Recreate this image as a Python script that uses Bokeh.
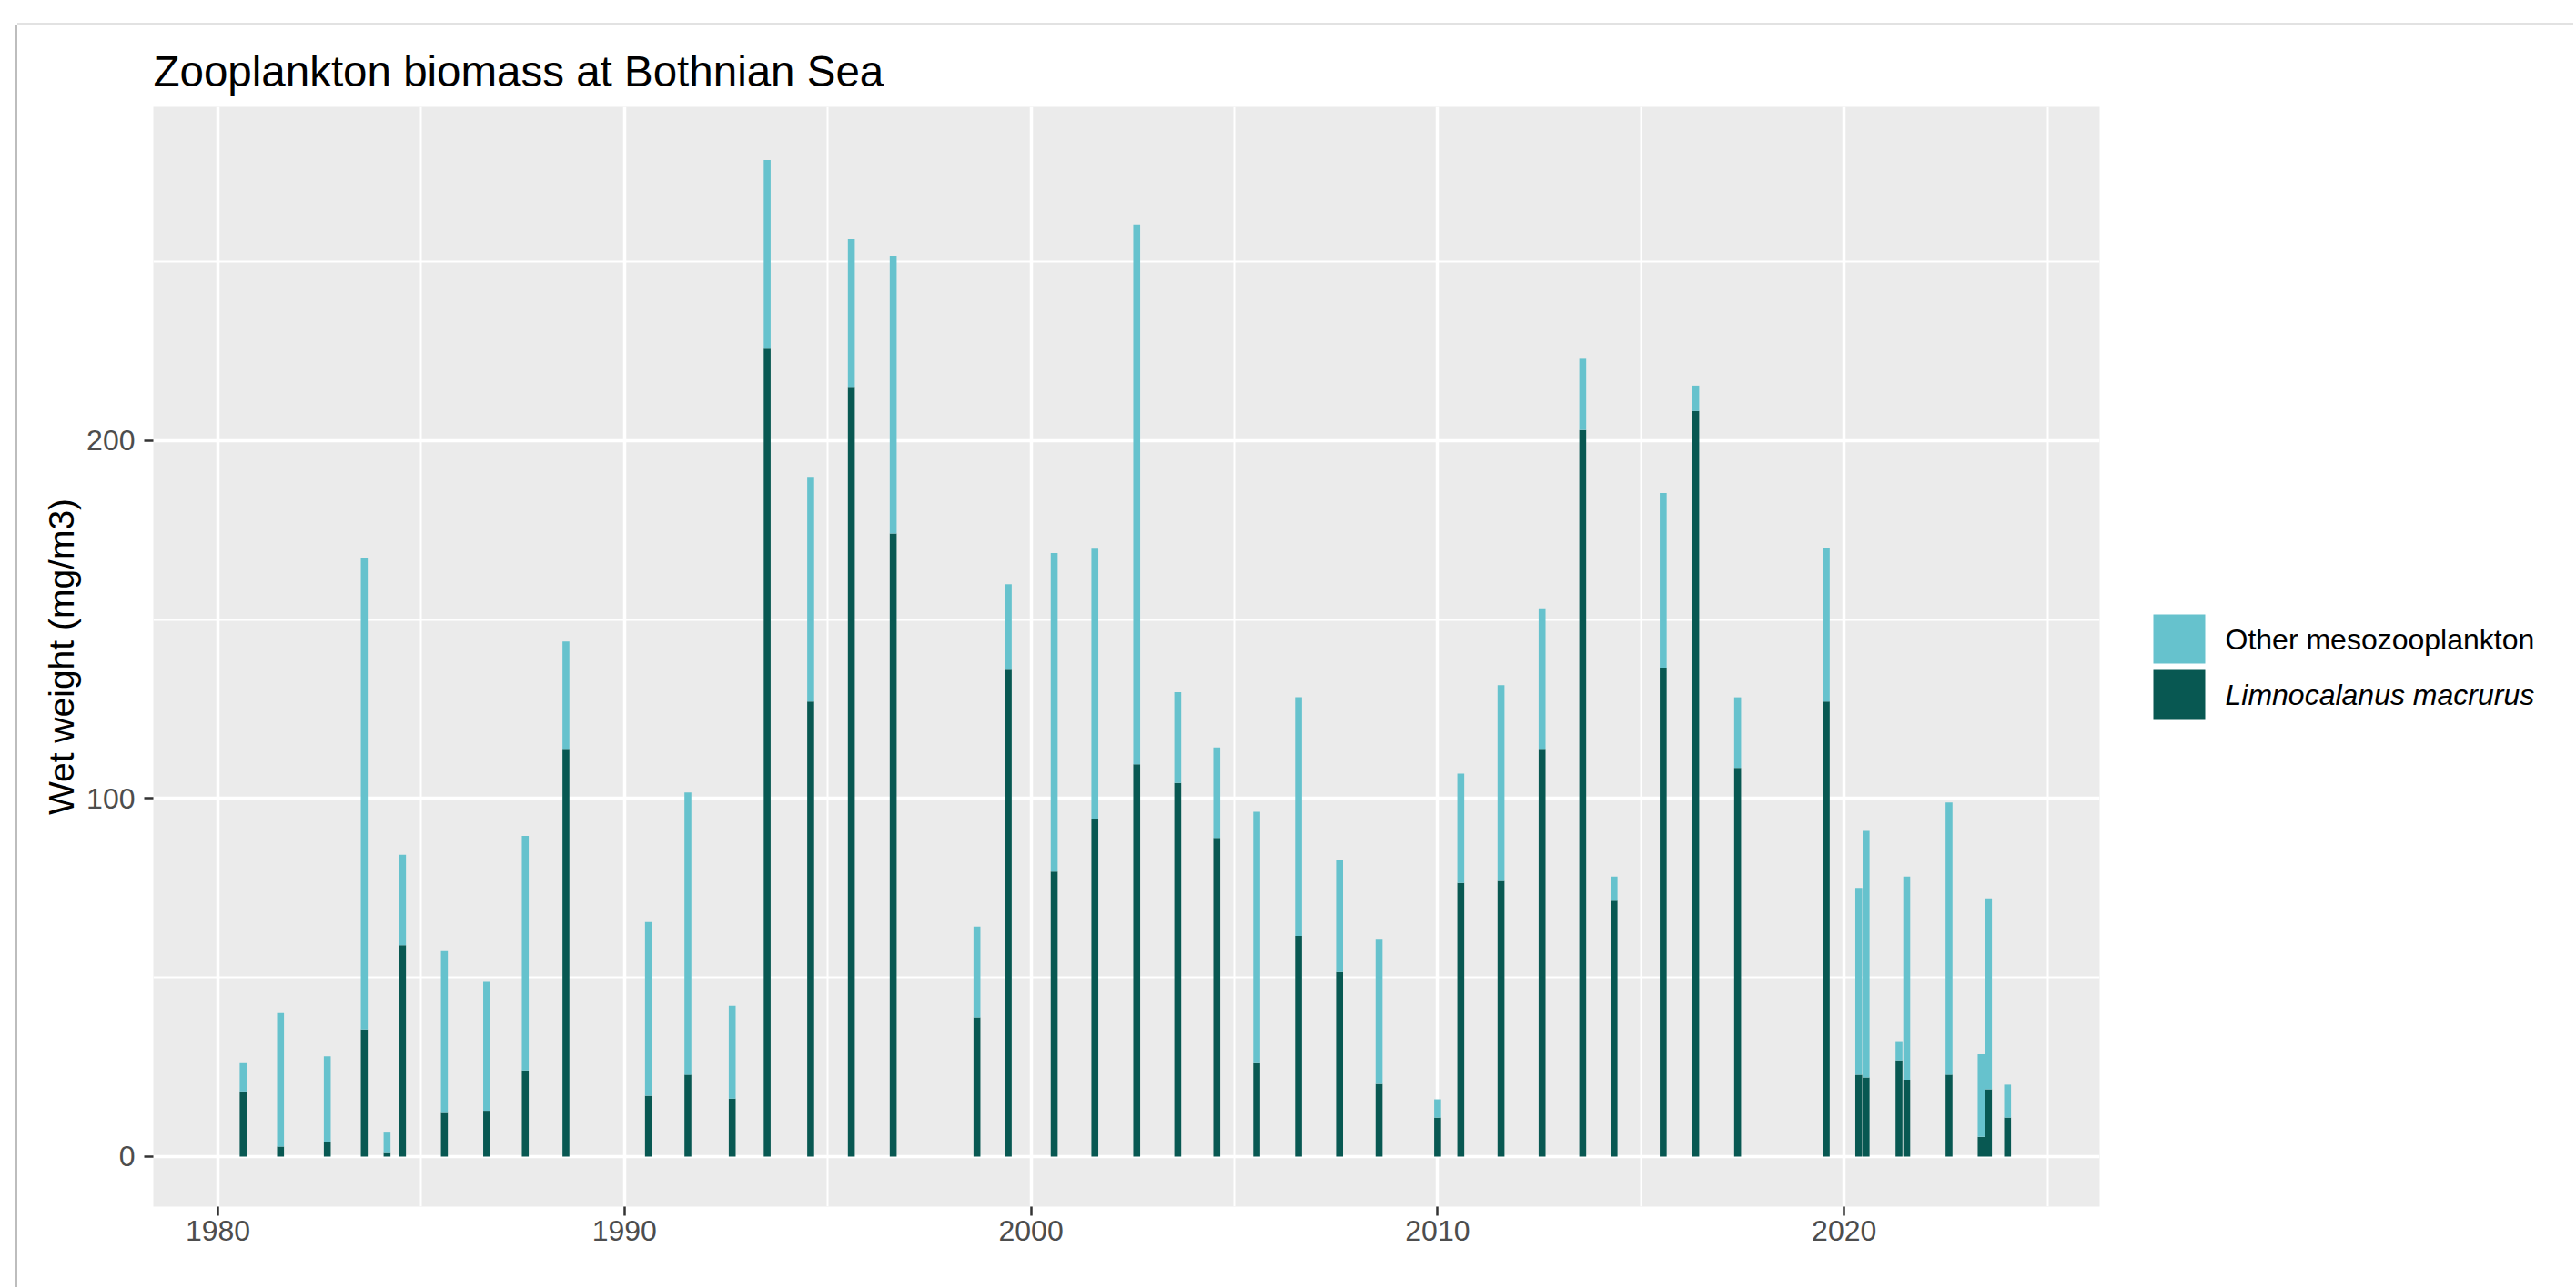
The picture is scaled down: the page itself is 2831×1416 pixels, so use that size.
from bokeh.plotting import figure
from bokeh.models import FixedTicker, Range1d
from bokeh.layouts import row
from bokeh.core.properties import value
from bokeh.embed import file_html
from bokeh.resources import INLINE

# ---- data (sampling date as decimal year) ----
sample_dates = [
    1980.62, 1981.54, 1982.69, 1983.60, 1984.16, 1984.54, 1985.57, 1986.61, 1987.56, 1988.56,
    1990.59, 1991.56, 1992.65, 1993.51, 1994.58, 1995.58, 1996.61, 1998.67, 1999.44, 2000.57,
    2001.57, 2002.60, 2003.61, 2004.57, 2005.55, 2006.58, 2007.59, 2008.56, 2010.00, 2010.57,
    2011.56, 2012.57, 2013.57, 2014.34, 2015.55, 2016.35, 2017.38, 2019.56, 2020.36, 2020.54,
    2021.35, 2021.54, 2022.58, 2023.37, 2023.55, 2024.02,
]
# Limnocalanus macrurus wet weight (mg/m3), bottom of each stack
limnocalanus = [
    18.2, 2.8, 4.1, 35.5, 1.0, 59.0, 12.2, 12.8, 24.1, 113.9,
    17.0, 22.9, 16.2, 225.7, 127.1, 214.8, 174.1, 38.9, 136.0, 79.6,
    94.4, 109.6, 104.4, 89.0, 26.1, 61.6, 51.5, 20.3, 10.9, 76.4,
    77.0, 113.9, 203.0, 71.7, 136.6, 208.3, 108.6, 127.1, 22.9, 22.1,
    26.9, 21.5, 22.9, 5.5, 18.8, 10.9,
]
# total wet weight (Limnocalanus + other mesozooplankton), top of each stack
total_biomass = [
    26.1, 40.1, 28.0, 167.2, 6.7, 84.3, 57.6, 48.8, 89.6, 143.9,
    65.5, 101.7, 42.1, 278.4, 189.9, 256.3, 251.7, 64.2, 159.9, 168.6,
    169.8, 260.4, 129.7, 114.3, 96.3, 128.3, 82.9, 60.8, 16.0, 107.0,
    131.7, 153.2, 222.9, 78.2, 185.4, 215.4, 128.3, 170.0, 75.0, 91.0,
    32.0, 78.2, 98.9, 28.6, 72.1, 20.1,
]
series_labels = ["Other mesozooplankton", "Limnocalanus macrurus"]
series_colors = ["#66C2CD", "#085852"]
x_ticks = [1980, 1990, 2000, 2010, 2020]
x_minor = [1985, 1995, 2005, 2015, 2025]
y_ticks = [0, 100, 200]
y_minor = [50, 150, 250]

LIGHT, DARK = series_colors
FONT = "Liberation Sans"

# ---- main chart (page x 19.., y 27..) ----
p = figure(width=2319, height=1388, output_backend="svg", toolbar_location=None,
           x_range=Range1d(1978.411, 2026.285), y_range=Range1d(-13.98, 293.26),
           min_border_left=149, min_border_right=31, min_border_top=90,
           min_border_bottom=89)

p.background_fill_color = "#EBEBEB"
p.border_fill_color = "white"
p.outline_line_color = None

r_limno = p.vbar(x=sample_dates, width=0.17, bottom=0, top=limnocalanus,
                 fill_color=DARK, line_color=None)
r_other = p.vbar(x=sample_dates, width=0.17, bottom=limnocalanus, top=total_biomass,
                 fill_color=LIGHT, line_color=None)

p.xaxis.ticker = FixedTicker(ticks=x_ticks, minor_ticks=x_minor)
p.yaxis.ticker = FixedTicker(ticks=y_ticks, minor_ticks=y_minor)
for ax in (p.xaxis, p.yaxis):
    ax.axis_line_color = None
    ax.minor_tick_line_color = None
    ax.major_tick_line_color = "#333333"
    ax.major_tick_line_width = 2.5
    ax.major_tick_out = 10
    ax.major_tick_in = 0
    ax.major_label_text_font = FONT
    ax.major_label_text_font_size = "32px"
    ax.major_label_text_color = "#4D4D4D"
p.xaxis.major_label_standoff = 5
p.yaxis.major_label_standoff = 10
p.yaxis.axis_label = "Wet weight (mg/m3)"
p.yaxis.axis_label_text_font = FONT
p.yaxis.axis_label_text_font_size = "39px"
p.yaxis.axis_label_text_font_style = "normal"
p.yaxis.axis_label_text_color = "black"
p.yaxis.axis_label_standoff = 3

for g in (p.xgrid, p.ygrid):
    g.grid_line_color = "white"
    g.grid_line_width = 3.5
    g.minor_grid_line_color = "white"
    g.minor_grid_line_width = 2

p.title.text = "Zooplankton biomass at Bothnian Sea"
p.title.text_font = FONT
p.title.text_font_size = "47.5px"
p.title.text_font_style = "normal"
p.title.text_color = "black"
p.title.align = "left"
p.title.standoff = 25

# ---- legend panel (its frame is aligned with the chart frame; ranges in page px) ----
q = figure(width=490, height=1388, output_backend="svg", toolbar_location=None,
           x_range=Range1d(2338, 2828), y_range=Range1d(1326, 117), min_border=0,
           x_axis_location=None, y_axis_location=None)
q.grid.visible = False
q.outline_line_color = None
q.background_fill_color = "white"
q.border_fill_color = "white"
q.quad(left=[2366, 2366], right=[2423, 2423], top=[675, 736], bottom=[729, 791],
       fill_color=series_colors, line_color=None)
q.text(x=[2445], y=[702], text=[series_labels[0]], text_font=value(FONT),
       text_font_size="32px", text_baseline="middle", text_align="left",
       text_color="black")
q.text(x=[2445], y=[763.5], text=[series_labels[1]], text_font=value(FONT),
       text_font_size="32px", text_font_style="italic", text_baseline="middle",
       text_align="left", text_color="black")

# screenshot frame (top and left edge lines) drawn as shadows of the layout box
layout = row(p, q, spacing=0, margin=(27, 0, 0, 19),
             styles={"box-shadow": "-2px 0 0 0 #BDBDBD, 0 -2px 0 0 #E2E2E2"})

open("out.html", "w").write(file_html(layout, INLINE))
